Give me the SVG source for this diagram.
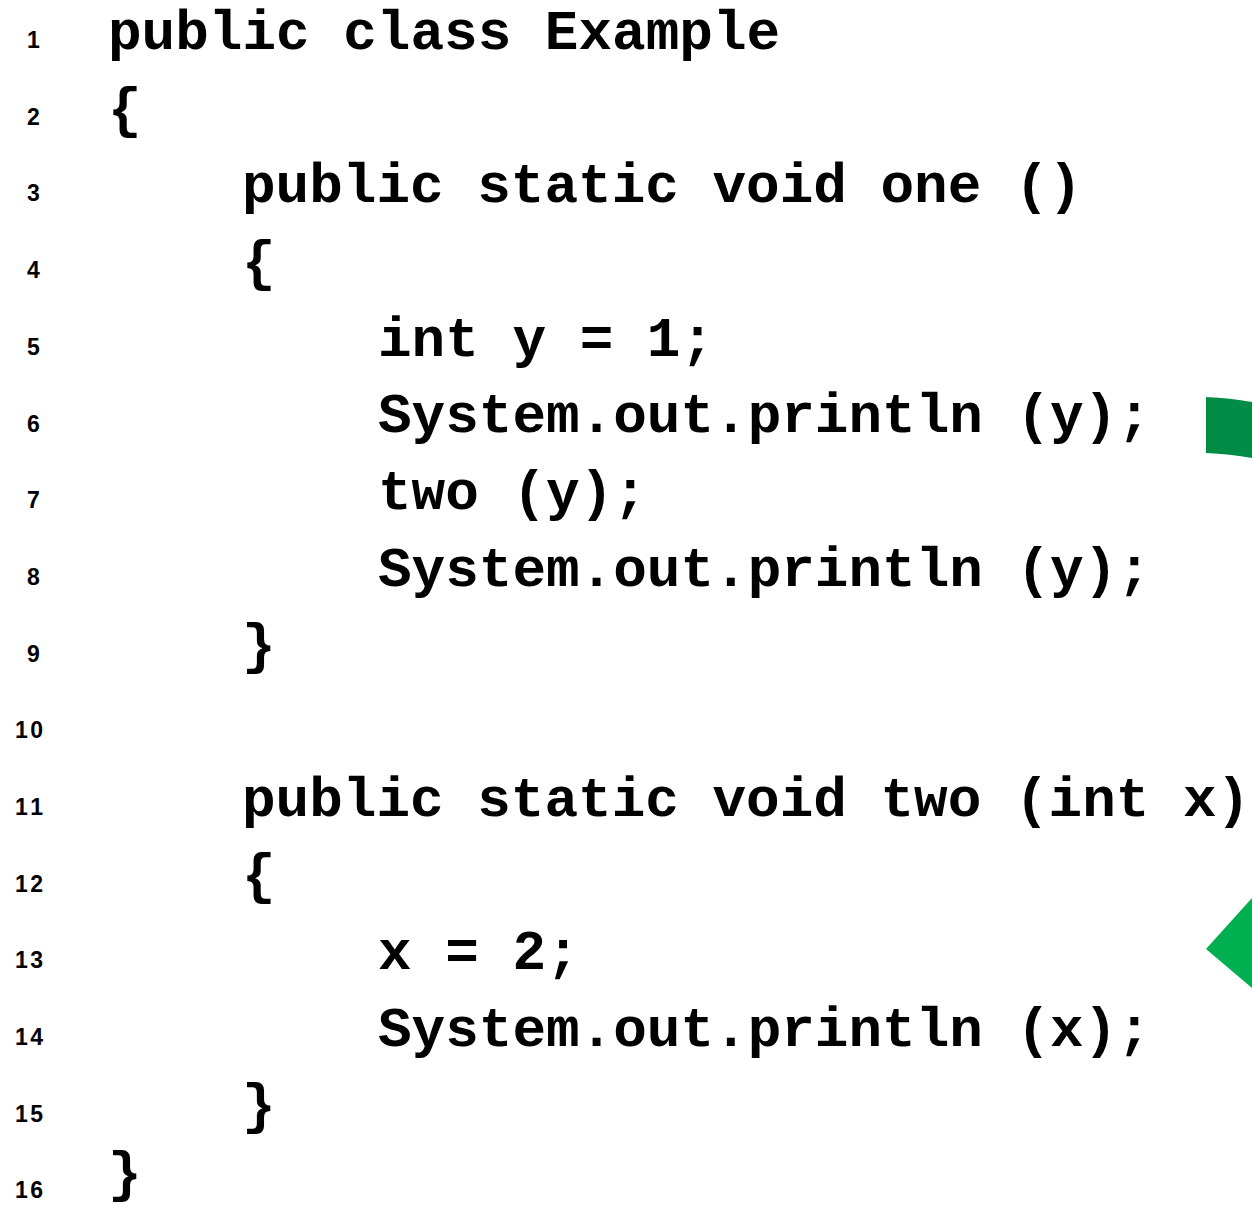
<svg xmlns="http://www.w3.org/2000/svg" width="1252" height="1208" viewBox="0 0 1252 1208">
<style>
.code{font-family:"Liberation Mono","Courier New",monospace;font-weight:bold;font-size:56px;fill:#000;white-space:pre}
.num{font-family:"Liberation Sans",Arial,sans-serif;font-weight:bold;font-size:23px;fill:#000}
</style>
<rect width="1252" height="1208" fill="#fff"/>
<g id="line-numbers">
<text class="num" x="27" y="48">1</text>
<text class="num" x="27" y="125">2</text>
<text class="num" x="27" y="201">3</text>
<text class="num" x="27" y="278">4</text>
<text class="num" x="27" y="355">5</text>
<text class="num" x="27" y="432">6</text>
<text class="num" x="27" y="508">7</text>
<text class="num" x="27" y="585">8</text>
<text class="num" x="27" y="662">9</text>
<text class="num" x="15" y="738" textLength="28">10</text>
<text class="num" x="15" y="815" textLength="28">11</text>
<text class="num" x="15" y="892" textLength="28">12</text>
<text class="num" x="15" y="968" textLength="28">13</text>
<text class="num" x="15" y="1045" textLength="28">14</text>
<text class="num" x="15" y="1122" textLength="28">15</text>
<text class="num" x="15" y="1198" textLength="28">16</text>
</g>
<g id="code">
<text class="code" x="108" y="49">public class Example</text>
<text class="code" x="108" y="126">{</text>
<text class="code" x="242" y="202">public static void one ()</text>
<text class="code" x="242" y="279">{</text>
<text class="code" x="378" y="356">int y = 1;</text>
<text class="code" x="378" y="432">System.out.println (y);</text>
<text class="code" x="378" y="509">two (y);</text>
<text class="code" x="378" y="586">System.out.println (y);</text>
<text class="code" x="242" y="662">}</text>
<text class="code" x="242" y="816">public static void two (int x)</text>
<text class="code" x="242" y="892">{</text>
<text class="code" x="378" y="969">x = 2;</text>
<text class="code" x="378" y="1046">System.out.println (x);</text>
<text class="code" x="242" y="1122">}</text>
<text class="code" x="108" y="1190">}</text>
</g>
<g id="shapes">
<path d="M1206,397 Q1230,398 1252,402 L1252,458 Q1230,454 1206,453 Z" fill="#008C45"/>
<path d="M1206,949 L1252,898 L1252,988 Z" fill="#00B050"/>
</g>
</svg>
